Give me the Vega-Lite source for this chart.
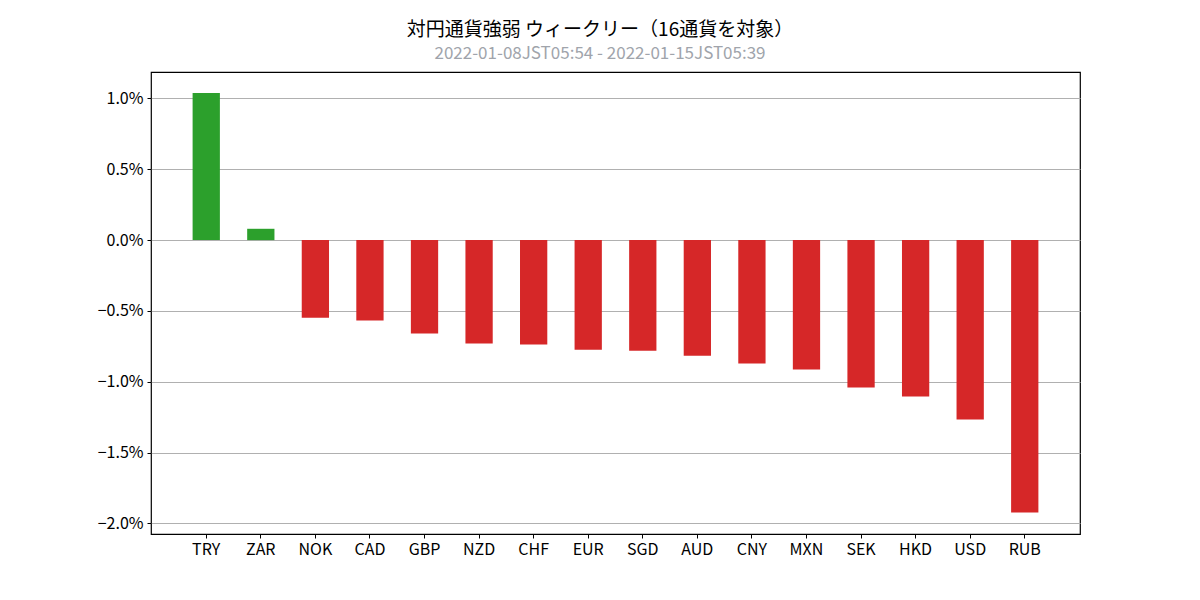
{
  "$schema": "https://vega.github.io/schema/vega-lite/v6.json",
  "width": 929,
  "height": 462,
  "autosize": "none",
  "padding": {"left": 151, "top": 72, "right": 120, "bottom": 66},
  "background": "white",
  "title": {
    "text": "対円通貨強弱 ウィークリー（16通貨を対象）",
    "subtitle": "2022-01-08JST05:54 - 2022-01-15JST05:39",
    "anchor": "middle",
    "dx": -15.5,
    "offset": 10,
    "font": "Noto Sans CJK JP",
    "fontSize": 19,
    "fontWeight": "normal",
    "color": "#000000",
    "subtitleFont": "Noto Sans CJK JP",
    "subtitleFontSize": 17,
    "subtitleColor": "#a0a4ab",
    "subtitlePadding": 6
  },
  "data": {
    "values": [
      {"currency": "TRY", "value": 1.039},
      {"currency": "ZAR", "value": 0.080},
      {"currency": "NOK", "value": -0.548},
      {"currency": "CAD", "value": -0.567},
      {"currency": "GBP", "value": -0.659},
      {"currency": "NZD", "value": -0.730},
      {"currency": "CHF", "value": -0.737},
      {"currency": "EUR", "value": -0.774},
      {"currency": "SGD", "value": -0.781},
      {"currency": "AUD", "value": -0.817},
      {"currency": "CNY", "value": -0.871},
      {"currency": "MXN", "value": -0.913},
      {"currency": "SEK", "value": -1.040},
      {"currency": "HKD", "value": -1.104},
      {"currency": "USD", "value": -1.266},
      {"currency": "RUB", "value": -1.924}
    ]
  },
  "config": {
    "view": {"stroke": "#000000", "strokeWidth": 1.2},
    "font": "Noto Sans CJK JP"
  },
  "mark": {"type": "bar"},
  "encoding": {
    "x": {
      "field": "currency",
      "type": "nominal",
      "sort": null,
      "scale": {"paddingInner": 0.5, "paddingOuter": 0.7625},
      "axis": {
        "title": null,
        "labelAngle": 0,
        "labelFont": "Noto Sans CJK JP",
        "labelFontSize": 16,
        "labelColor": "#000000",
        "labelPadding": 3,
        "tickColor": "#000000",
        "tickSize": 4,
        "domain": false,
        "grid": false
      }
    },
    "y": {
      "field": "value",
      "type": "quantitative",
      "scale": {"domain": [-2.075, 1.187], "nice": false, "zero": false},
      "axis": {
        "title": null,
        "values": [-2.0, -1.5, -1.0, -0.5, 0.0, 0.5, 1.0],
        "labelExpr": "replace(format(datum.value, '.1f'), '-', '−') + '%'",
        "labelFont": "Noto Sans CJK JP",
        "labelFontSize": 16,
        "labelColor": "#000000",
        "labelPadding": 4,
        "tickColor": "#000000",
        "tickSize": 4,
        "domain": false,
        "grid": true,
        "gridColor": "#b0b0b0",
        "gridWidth": 1
      }
    },
    "color": {
      "condition": {"test": "datum.value > 0", "value": "#2ca02c"},
      "value": "#d62728"
    }
  }
}
